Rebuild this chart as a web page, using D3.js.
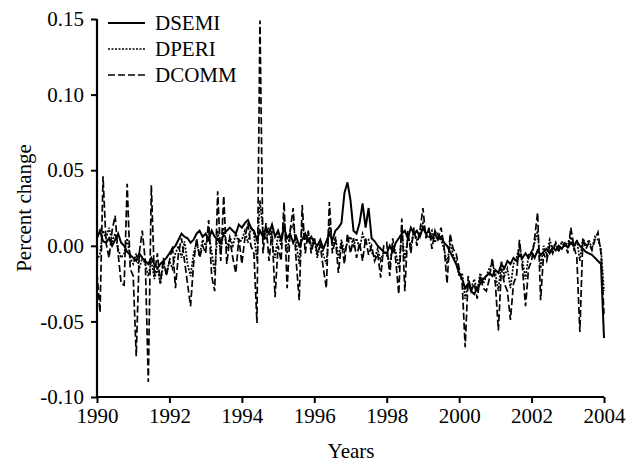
<!DOCTYPE html>
<html>
<head>
<meta charset="utf-8">
<script src="https://cdn.jsdelivr.net/npm/d3@7"></script>
<style>
  body { margin: 0; background: #fff; }
  svg text { font-family: "Liberation Serif", "Times New Roman", serif; fill: #000; }
</style>
</head>
<body>
<svg id="chart" width="629" height="464"></svg>
<script>
// monthly percent changes, Jan 1990 .. Jan 2004
var startYear = 1990;
var seriesNames = ["DSEMI", "DPERI", "DCOMM"];
var xTicks = [1990, 1992, 1994, 1996, 1998, 2000, 2002, 2004];
var yTicks = [-0.10, -0.05, 0.00, 0.05, 0.10, 0.15];

var dsemi = [
  0.005, 0.010, 0.003, 0.002, 0.005, 0.000, 0.004, 0.008, 0.002, 0.000, -0.004, -0.006,
  -0.008, -0.010, -0.005, -0.008, -0.010, -0.012, -0.008, -0.012, -0.015, -0.012, -0.010, -0.008,
  -0.005, -0.002, 0.000, 0.004, 0.008, 0.006, 0.005, 0.002, 0.004, 0.008, 0.010, 0.006,
  0.008, 0.004, 0.010, 0.006, 0.004, 0.002, 0.008, 0.010, 0.012, 0.010, 0.008, 0.014,
  0.012, 0.015, 0.017, 0.012, 0.010, 0.004, 0.010, 0.006, 0.012, 0.008, 0.014, 0.006,
  0.010, 0.004, 0.012, 0.005, 0.008, 0.002, 0.006, 0.000, 0.004, 0.008, 0.003, 0.006,
  0.002, 0.000, 0.004, -0.002, 0.003, 0.008, 0.004, 0.010, 0.012, 0.015, 0.035, 0.042,
  0.030, 0.010, 0.008, 0.015, 0.028, 0.012, 0.025, 0.005, 0.003, 0.000, -0.002, -0.004,
  -0.005, 0.000, -0.004, 0.002, 0.005, 0.008, 0.010, 0.005, 0.012, 0.008, 0.010, 0.006,
  0.012, 0.008, 0.010, 0.005, 0.008, 0.004, 0.006, 0.002, 0.000, -0.004, -0.008, -0.012,
  -0.018, -0.022, -0.028, -0.025, -0.030, -0.032, -0.028, -0.025, -0.022, -0.020, -0.018, -0.020,
  -0.016, -0.018, -0.012, -0.015, -0.010, -0.012, -0.008, -0.010, -0.006, -0.008, -0.005, -0.008,
  -0.004, -0.008, -0.003, -0.006, -0.004, -0.002, -0.005, -0.001, -0.003, 0.000, -0.002, 0.001,
  -0.001, 0.002, 0.000, 0.003, 0.000, -0.002, -0.004, -0.005, -0.006, -0.008, -0.010, -0.012,
  -0.061
];

var dperi = [
  -0.010, -0.005, 0.010, 0.005, 0.012, 0.003, 0.008, -0.002, -0.008, -0.005, 0.005, -0.008,
  -0.012, -0.005, -0.015, -0.008, -0.012, -0.020, -0.010, -0.022, -0.015, -0.025, -0.012, -0.018,
  -0.010, -0.015, -0.005, 0.000, -0.008, 0.003, -0.012, -0.020, -0.005, 0.002, -0.006, 0.004,
  0.000, 0.008, -0.004, -0.018, 0.010, -0.005, 0.012, -0.002, 0.006, 0.000, 0.008, 0.002,
  0.004, 0.010, 0.002, 0.012, 0.008, -0.010, 0.030, 0.010, 0.004, 0.012, 0.002, -0.008,
  0.008, 0.000, 0.018, -0.005, 0.010, 0.014, 0.002, -0.012, 0.015, 0.004, 0.008, 0.000,
  0.005, -0.008, 0.002, -0.006, -0.012, 0.015, 0.000, 0.006, -0.008, 0.004, -0.004, 0.002,
  0.006, 0.000, 0.005, -0.002, 0.008, 0.002, 0.004, -0.004, -0.008, -0.002, -0.010, -0.004,
  -0.006, -0.012, 0.000, -0.004, -0.015, 0.010, -0.010, 0.006, 0.000, 0.010, 0.004, 0.008,
  0.015, 0.008, 0.005, 0.010, 0.002, 0.008, 0.004, -0.002, -0.012, 0.002, -0.006, -0.010,
  -0.020, -0.018, -0.035, -0.025, -0.028, -0.022, -0.030, -0.018, -0.025, -0.020, -0.015, -0.012,
  -0.018, -0.030, -0.010, -0.020, -0.015, -0.028, -0.012, -0.008, 0.000, -0.010, -0.022, -0.006,
  -0.005, 0.002, 0.010, -0.015, 0.000, -0.006, 0.004, -0.002, 0.002, -0.004, 0.003, 0.000,
  0.002, 0.006, -0.002, 0.004, -0.010, 0.005, 0.000, 0.004, -0.002, 0.006, 0.004, -0.002,
  -0.030
];

var dcomm = [
  -0.018, -0.044, 0.046, 0.002, -0.008, 0.010, 0.020, -0.005, -0.025, -0.026, 0.041, -0.015,
  -0.020, -0.073, -0.005, 0.010, -0.010, -0.090, 0.040, -0.020, -0.005, -0.025, -0.008, -0.020,
  -0.010, 0.000, -0.028, -0.005, 0.005, -0.010, -0.025, -0.040, -0.012, 0.005, -0.008, 0.000,
  -0.005, 0.017, -0.020, -0.030, 0.036, -0.010, 0.033, -0.012, 0.005, -0.008, -0.018, 0.005,
  -0.012, 0.005, 0.015, 0.000, -0.005, -0.051, 0.149, -0.005, 0.015, -0.010, 0.010, -0.034,
  0.000, -0.010, 0.029, -0.028, 0.010, 0.025, -0.010, -0.036, 0.027, -0.005, 0.010, -0.005,
  0.005, -0.005, 0.000, -0.015, -0.028, 0.029, -0.005, 0.005, -0.018, 0.002, -0.012, 0.008,
  -0.005, 0.005, -0.008, 0.002, -0.010, 0.005, -0.006, 0.000, -0.010, -0.005, -0.021, 0.000,
  0.002, -0.020, 0.005, -0.010, -0.032, 0.018, -0.030, 0.010, -0.005, 0.012, 0.000, 0.010,
  0.025, 0.005, 0.012, -0.002, 0.010, 0.005, 0.012, 0.000, -0.025, 0.008, -0.002, -0.005,
  -0.015, -0.025, -0.067, -0.020, -0.030, -0.025, -0.035, -0.020, -0.028, -0.030, -0.022, -0.008,
  -0.025, -0.056, -0.015, -0.025, -0.030, -0.049, -0.025, -0.020, 0.004, -0.015, -0.040, -0.015,
  -0.010, 0.005, 0.022, -0.036, -0.005, -0.010, 0.000, -0.005, 0.002, -0.003, 0.000, 0.002,
  -0.005, 0.012, 0.000, -0.008, -0.057, 0.005, -0.002, 0.002, -0.003, 0.004, 0.009, -0.005,
  -0.045
];

var svg = d3.select("#chart");
var margin = {left: 97, top: 19, right: 25, bottom: 67};
var width = 629 - margin.left - margin.right;
var height = 464 - margin.top - margin.bottom;

var x = d3.scaleLinear().domain([1990, 2004]).range([0, width]);
var y = d3.scaleLinear().domain([-0.10, 0.15]).range([height, 0]);

var g = svg.append("g").attr("transform", "translate(" + margin.left + "," + margin.top + ")");

var styles = {
  DSEMI: {data: dsemi, dash: null, w: 2},
  DPERI: {data: dperi, dash: "2,1.5", w: 1.7},
  DCOMM: {data: dcomm, dash: "7,3", w: 1.7}
};

var line = d3.line()
  .x(function(d, i) { return x(startYear + i / 12); })
  .y(function(d) { return y(d); });

// draw comm first so the solid lines sit on top
["DCOMM", "DPERI", "DSEMI"].forEach(function(name) {
  g.append("path")
    .datum(styles[name].data)
    .attr("fill", "none")
    .attr("stroke", "#000")
    .attr("stroke-width", styles[name].w)
    .attr("stroke-dasharray", styles[name].dash)
    .attr("d", line);
});

// axes
var xAxis = g.append("g")
  .attr("transform", "translate(0," + height + ")")
  .call(d3.axisBottom(x).tickValues(xTicks).tickFormat(d3.format("d")).tickSize(6).tickPadding(5));
var yAxis = g.append("g")
  .call(d3.axisLeft(y).tickValues(yTicks).tickFormat(function(d) { return d.toFixed(2); }).tickSize(6).tickPadding(7));

[xAxis, yAxis].forEach(function(a) {
  a.select(".domain").attr("stroke", "#000").attr("stroke-width", 2.2);
  a.selectAll(".tick line").attr("stroke", "#000").attr("stroke-width", 2);
  a.selectAll(".tick text").style("font-size", "21px").style("font-family", "'Liberation Serif', serif");
});
yAxis.select(".domain").attr("d", "M0," + height + "V0");
xAxis.select(".domain").attr("d", "M0,0H" + width);

// legend
var legend = g.append("g").attr("transform", "translate(11,4)");
seriesNames.forEach(function(name, i) {
  var row = legend.append("g").attr("transform", "translate(0," + (i * 26) + ")");
  row.append("line")
    .attr("x1", 0).attr("x2", 37)
    .attr("stroke", "#000")
    .attr("stroke-width", styles[name].w)
    .attr("stroke-dasharray", styles[name].dash);
  row.append("text")
    .attr("x", 47).attr("y", 0).attr("dy", "0.35em")
    .style("font-size", "21px")
    .text(name);
});

// axis titles
svg.append("text")
  .attr("transform", "translate(31,208) rotate(-90)")
  .attr("text-anchor", "middle")
  .style("font-size", "21px")
  .text("Percent change");
svg.append("text")
  .attr("x", 351).attr("y", 458)
  .attr("text-anchor", "middle")
  .style("font-size", "21px")
  .text("Years");
</script>
</body>
</html>
